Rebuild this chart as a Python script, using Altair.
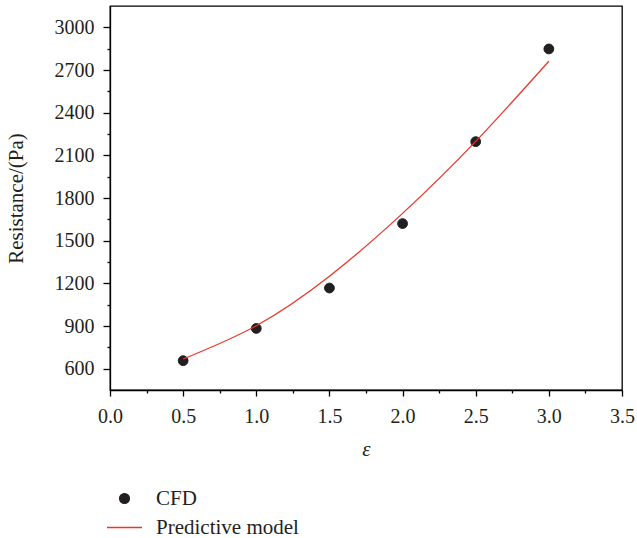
import altair as alt
import pandas as pd

# CFD results: resistance (Pa) against ε
eps_cfd = [0.5, 1.0, 1.5, 2.0, 2.5, 3.0]
res_cfd = [656, 883, 1167, 1620, 2196, 2848]

# Predictive model curve, sampled along ε
eps_model = [0.5, 1.0, 1.5, 2.0, 2.5, 3.0]
res_model = [668, 902, 1250, 1692, 2198, 2762]

series_names = ["CFD", "Predictive model"]

cfd_df = pd.DataFrame({"eps": eps_cfd, "res": res_cfd, "series": "CFD"})
model_df = pd.DataFrame({"eps": eps_model, "res": res_model})

FONT = "Liberation Serif"
INK = "#231f20"
RED = "#e8372c"

# small filled disc inside the [-1, 1] symbol box
DOT = "M -0.28 0 A 0.28 0.28 0 1 0 0.28 0 A 0.28 0.28 0 1 0 -0.28 0 Z"

x_ticks = [i * 0.25 for i in range(15)]
y_ticks = list(range(600, 3001, 150))

x_axis = alt.Axis(
    values=x_ticks,
    format=".1f",
    labelExpr="round(datum.value * 4) % 2 === 0 ? datum.label : ''",
    tickSize={"condition": {"test": "round(datum.value * 4) % 2 === 0", "value": 6}, "value": 3},
    labelFlush=False,
    labelOverlap=False,
    title="ε",
    titleFontStyle="italic",
    titleFontWeight="normal",
    titlePadding=12,
    labelPadding=10,
    grid=False,
)

y_axis = alt.Axis(
    values=y_ticks,
    labelExpr="datum.value % 300 === 0 ? datum.label : ''",
    tickSize={"condition": {"test": "datum.value % 300 === 0", "value": 7}, "value": 3},
    format="d",
    labelFlush=False,
    labelOverlap=False,
    title="Resistance/(Pa)",
    titleFontWeight="normal",
    titlePadding=28,
    labelPadding=9,
    grid=False,
)

x_enc = alt.X("eps:Q", scale=alt.Scale(domain=[0, 3.5], nice=False, zero=False), axis=x_axis)
y_enc = alt.Y("res:Q", scale=alt.Scale(domain=[450, 3150], nice=False, zero=False), axis=y_axis)

legend = alt.Legend(
    title=None,
    orient="none",
    legendX=-4,
    legendY=474,
    symbolSize=1225,
    symbolStrokeWidth=1.3,
    labelFont=FONT,
    labelFontSize=21,
    labelColor=INK,
    labelOffset=13,
    rowPadding=-9,
    padding=0,
)

points = alt.Chart(cfd_df).mark_point(filled=True, size=1225, opacity=1, strokeWidth=1).encode(
    x=x_enc,
    y=y_enc,
    fill=alt.Fill("series:N", scale=alt.Scale(domain=series_names, range=[INK, RED]), legend=legend),
    stroke=alt.Stroke("series:N", scale=alt.Scale(domain=series_names, range=[INK, RED]), legend=legend),
    shape=alt.Shape("series:N", scale=alt.Scale(domain=series_names, range=[DOT, "stroke"]), legend=legend),
)

# smooth spline through the sampled model values
curve = alt.Chart(model_df).mark_line(color=RED, strokeWidth=1.3, interpolate="natural").encode(
    x=x_enc,
    y=y_enc,
)

chart = (
    alt.layer(points, curve)
    .properties(
        width=512,
        height=384,
        autosize=alt.AutoSizeParams(type="none"),
        padding={"left": 110, "top": 6, "right": 15, "bottom": 148},
        background="white",
    )
    .configure_view(stroke="black", strokeWidth=1.3)
    .configure_axis(
        domainColor="black",
        domainWidth=1.3,
        tickColor="black",
        tickWidth=1.3,
        labelFont=FONT,
        labelFontSize=20,
        labelColor=INK,
        titleFont=FONT,
        titleFontSize=21,
        titleColor=INK,
    )
)

chart.save("out.html", embed_options={"renderer": "svg", "actions": False})
